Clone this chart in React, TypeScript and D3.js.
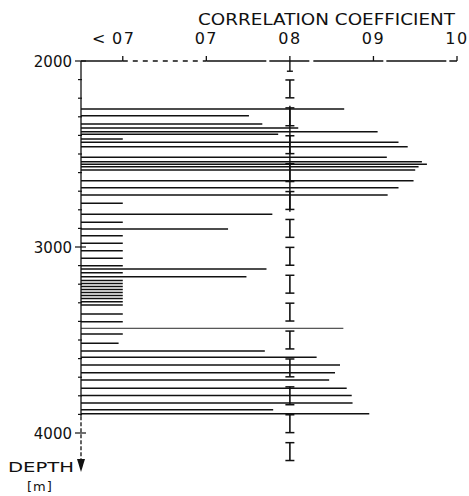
import React from "react";
import * as d3 from "d3";

// depth of each logged interval (m) and its correlation coefficient
// values below 0.7 are plotted at the "<07" position (0.6)
const depths = [
  2258, 2294, 2339, 2360, 2380, 2394, 2419, 2437, 2461, 2518,
  2541, 2555, 2568, 2586, 2644, 2681, 2720, 2765, 2824, 2867,
  2903, 2939, 2980, 3020, 3061, 3101, 3118, 3138, 3160, 3180,
  3196, 3212, 3228, 3245, 3261, 3277, 3294, 3312, 3360, 3402,
  3437, 3468, 3518, 3559, 3593, 3634, 3676, 3715, 3760, 3798,
  3839, 3875, 3897,
];
const coefficients = [
  0.865, 0.751, 0.767, 0.81, 0.905, 0.786, 0.6, 0.93, 0.941, 0.916,
  0.958, 0.964, 0.954, 0.95, 0.948, 0.93, 0.917, 0.6, 0.779, 0.6,
  0.726, 0.6, 0.6, 0.6, 0.6, 0.6, 0.772, 0.6, 0.748, 0.6,
  0.6, 0.6, 0.6, 0.6, 0.6, 0.6, 0.6, 0.6, 0.6, 0.6,
  0.864, 0.6, 0.595, 0.77, 0.832, 0.86, 0.854, 0.847, 0.868, 0.874,
  0.875, 0.78, 0.895,
];
const thinRows = [3437];

const xTicks = [0.6, 0.7, 0.8, 0.9, 1.0];
const xTickLabels = ["<07", "07", "08", "09", "10"];
const depthLabels = [2000, 3000, 4000];
const errorDepths = [
  2150, 2300, 2450, 2600, 2750, 2900, 3050, 3200, 3350, 3500,
  3650, 3800, 3950, 4100,
];

const App = () => {
  const x = d3.scaleLinear().domain([0.55, 1.0]).range([81, 457]);
  const y = d3.scaleLinear().domain([2000, 4000]).range([61, 433]);
  const minorTicks = d3.range(2000, 4001, 100);
  const font = "'DejaVu Sans', sans-serif";
  const ink = "#111";
  const x0 = x(0.55);

  return (
    <svg
      width={469}
      height={496}
      style={{ position: "absolute", left: 0, top: 0, background: "#fff" }}
    >
      {/* title */}
      <text
        x={198}
        y={25}
        fontFamily={font}
        fontSize={15}
        textLength={257}
        lengthAdjust="spacingAndGlyphs"
        fill={ink}
      >
        CORRELATION COEFFICIENT
      </text>

      {/* top axis */}
      <line x1={x0} x2={x(0.6)} y1={y(2000)} y2={y(2000)} stroke={ink} strokeWidth={1.3} />
      <line
        x1={x(0.6)}
        x2={x(0.7)}
        y1={y(2000)}
        y2={y(2000)}
        stroke={ink}
        strokeWidth={1.3}
        strokeDasharray="5 5"
      />
      <line
        x1={x(0.7)}
        x2={x(1.0)}
        y1={y(2000)}
        y2={y(2000)}
        stroke={ink}
        strokeWidth={1.3}
        strokeDasharray="60 3 40 4 70 3"
      />
      {xTicks.map((t, i) => (
        <g key={t}>
          <line x1={x(t)} x2={x(t)} y1={y(2000) - 5} y2={y(2000)} stroke={ink} strokeWidth={1.3} />
          {i === 0 ? (
            <text x={92} y={44} fontFamily={font} fontSize={16} fill={ink}>
              <tspan>{"<"}</tspan>
              <tspan x={112} letterSpacing={1.5}>{xTickLabels[i].slice(1)}</tspan>
            </text>
          ) : (
            <text
              x={x(t)}
              y={44}
              textAnchor="middle"
              fontFamily={font}
              fontSize={16}
              letterSpacing={1.5}
              fill={ink}
            >
              {xTickLabels[i]}
            </text>
          )}
        </g>
      ))}

      {/* depth axis */}
      <line x1={x0} x2={x0} y1={y(2000)} y2={y(3910)} stroke={ink} strokeWidth={1.3} />
      <line
        x1={x0}
        x2={x0}
        y1={y(3910)}
        y2={460}
        stroke={ink}
        strokeWidth={1.3}
        strokeDasharray="4 2"
      />
      <path d={`M${x0 - 4},459 L${x0 + 4},459 L${x0},472 Z`} fill={ink} />
      {minorTicks.map((d) => (
        <line
          key={d}
          x1={x0 - (d % 1000 === 0 ? 6 : 3)}
          x2={x0 + (d % 1000 === 0 ? 5 : 1)}
          y1={y(d)}
          y2={y(d)}
          stroke={ink}
          strokeWidth={1.2}
        />
      ))}
      {depthLabels.map((d) => (
        <text
          key={d}
          x={72}
          y={y(d) + 5.5}
          textAnchor="end"
          fontFamily={font}
          fontSize={15}
          fill={ink}
        >
          {d}
        </text>
      ))}
      <text
        x={8}
        y={472}
        fontFamily={font}
        fontSize={14}
        textLength={66}
        lengthAdjust="spacingAndGlyphs"
        fill={ink}
      >
        DEPTH
      </text>
      <text x={27} y={491} fontFamily={font} fontSize={13} fill={ink} letterSpacing={1}>
        [m]
      </text>

      {/* correlation bars */}
      {depths.map((d, i) => (
        <line
          key={d}
          x1={x0}
          x2={x(coefficients[i])}
          y1={y(d)}
          y2={y(d)}
          stroke={ink}
          strokeWidth={thinRows.includes(d) ? 0.9 : 1.5}
        />
      ))}

      {/* 0.8 reference with error marks */}
      <line x1={x(0.8)} x2={x(0.8)} y1={y(2000)} y2={y(2055)} stroke={ink} strokeWidth={1.4} />
      <line x1={x(0.8) - 3} x2={x(0.8) + 3} y1={y(2055)} y2={y(2055)} stroke={ink} strokeWidth={1.4} />
      <line x1={x(0.8)} x2={x(0.8)} y1={y(2240)} y2={y(2810)} stroke={ink} strokeWidth={1.4} />
      {errorDepths.map((d) => (
        <g key={d}>
          <line x1={x(0.8)} x2={x(0.8)} y1={y(d - 48)} y2={y(d + 48)} stroke={ink} strokeWidth={1.6} />
          <line
            x1={x(0.8) - 4.5}
            x2={x(0.8) + 4.5}
            y1={y(d - 48)}
            y2={y(d - 48)}
            stroke={ink}
            strokeWidth={1.5}
          />
          <line
            x1={x(0.8) - 4.5}
            x2={x(0.8) + 4.5}
            y1={y(d + 48)}
            y2={y(d + 48)}
            stroke={ink}
            strokeWidth={1.5}
          />
        </g>
      ))}
    </svg>
  );
};

export default App;
